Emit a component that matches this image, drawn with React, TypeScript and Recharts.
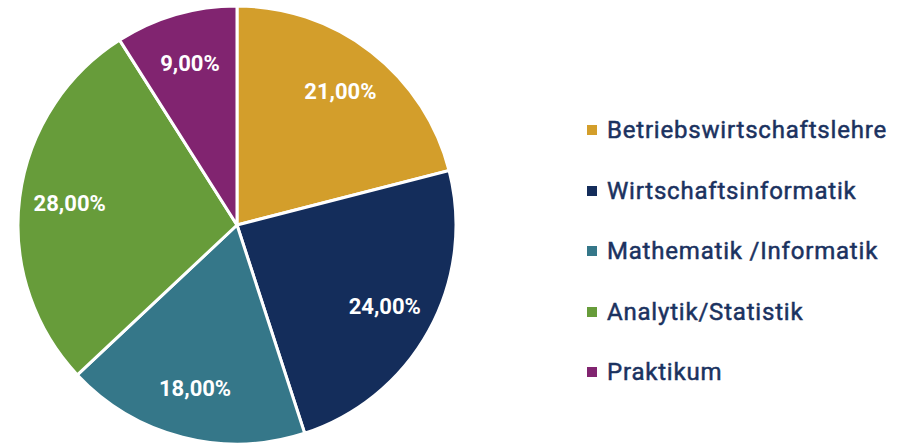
import React from 'react';
import { PieChart, Pie, Cell } from 'recharts';

const categories = [
    'Betriebswirtschaftslehre',
    'Wirtschaftsinformatik',
    'Mathematik /Informatik',
    'Analytik/Statistik',
    'Praktikum',
];
const shares = [21, 24, 18, 28, 9];
const colors = ['#D39E2B', '#142D5B', '#357789', '#679C3A', '#812470'];

const data = categories.map((name, i) => ({ name, value: shares[i] }));

const RADIAN = Math.PI / 180;

const renderLabel = (props: any) => {
    const { cx, cy, midAngle, outerRadius, value } = props;
    const r = outerRadius * 0.77;
    const x = cx + r * Math.cos(-midAngle * RADIAN);
    const y = cy + r * Math.sin(-midAngle * RADIAN);
    return (
        <text
            x={x}
            y={y}
            fill="#ffffff"
            textAnchor="middle"
            dominantBaseline="central"
            fontFamily="Roboto"
            fontWeight={700}
            fontSize={22}
        >
            {value.toFixed(2).replace('.', ',') + '%'}
        </text>
    );
};

const App: React.FC = () => {
    return (
        <div style={{ position: 'absolute', left: 0, top: 0, width: 903, height: 443, background: '#fff' }}>
            <PieChart width={903} height={443} margin={{ top: 0, right: 0, bottom: 0, left: 0 }}>
                <Pie
                    data={data}
                    dataKey="value"
                    nameKey="name"
                    cx={237}
                    cy={225}
                    outerRadius={219}
                    startAngle={90}
                    endAngle={-270}
                    stroke="#ffffff"
                    strokeWidth={3}
                    labelLine={false}
                    label={renderLabel}
                    isAnimationActive={false}
                >
                    {data.map((d, i) => (
                        <Cell key={d.name} fill={colors[i]} />
                    ))}
                </Pie>
            </PieChart>
            <div style={{ position: 'absolute', left: 587, top: 100, fontFamily: 'Roboto', fontWeight: 400 }}>
                {data.map((d, i) => (
                    <div key={d.name} style={{ display: 'flex', alignItems: 'center', height: 60.5 }}>
                        <span
                            style={{
                                display: 'inline-block',
                                width: 10,
                                height: 10,
                                background: colors[i],
                                marginRight: 10,
                            }}
                        />
                        <span style={{ fontSize: 24, color: '#1B3260', letterSpacing: 0.8, WebkitTextStroke: '0.5px #1B3260' }}>
                            {d.name}
                        </span>
                    </div>
                ))}
            </div>
        </div>
    );
};

export default App;
